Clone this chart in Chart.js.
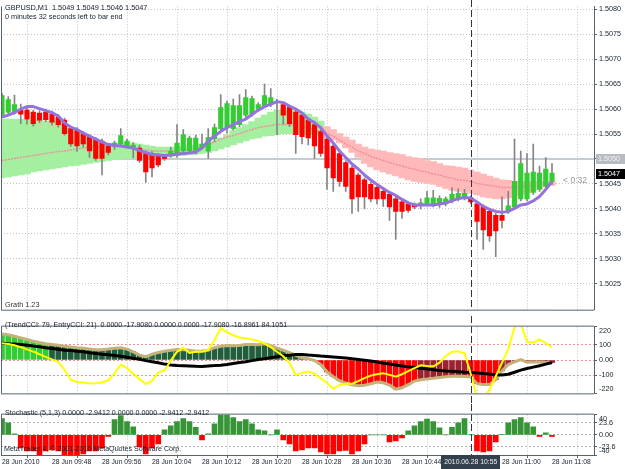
<!DOCTYPE html>
<html>
<head>
<meta charset="utf-8">
<title>GBPUSD,M1</title>
<script src="https://cdn.jsdelivr.net/npm/chart.js@4.4.1/dist/chart.umd.min.js"></script>
<style>
  html, body { margin: 0; padding: 0; background: #fff; }
  #wrap { position: relative; width: 625px; height: 469px; overflow: hidden; }
  #wrap canvas { position: absolute; left: 0; }
</style>
</head>
<body>
<div id="wrap">
  <canvas id="mainChart" width="625" height="316" style="top:0"></canvas>
  <canvas id="cciChart" width="625" height="88" style="top:316px"></canvas>
  <canvas id="stochChart" width="625" height="65" style="top:404px"></canvas>
</div>
<script>
// GBPUSD M1, 28 Jun 2010, one entry per bar from 09:40 to 11:08
const open = [
  1.50588, 1.50594, 1.50594, 1.50598, 1.50598, 1.50594, 1.50592, 1.50594, 1.50590, 1.50584,
  1.50578, 1.50561, 1.50559, 1.50551, 1.50545, 1.50540, 1.50536, 1.50526, 1.50528, 1.50530,
  1.50526, 1.50524, 1.50522, 1.50511, 1.50511, 1.50507, 1.50505, 1.50507, 1.50507, 1.50516,
  1.50516, 1.50514, 1.50523, 1.50516, 1.50540, 1.50561, 1.50565, 1.50561, 1.50569, 1.50588,
  1.50590, 1.50600, 1.50607, 1.50609, 1.50615, 1.50609, 1.50604, 1.50594, 1.50588, 1.50578,
  1.50569, 1.50555, 1.50540, 1.50526, 1.50511, 1.50493, 1.50482, 1.50468, 1.50458, 1.50449,
  1.50443, 1.50435, 1.50429, 1.50420, 1.50414, 1.50410, 1.50408, 1.50410, 1.50410, 1.50410,
  1.50409, 1.50410, 1.50416, 1.50420, 1.50422, 1.50422, 1.50410, 1.50404, 1.50395, 1.50387,
  1.50387, 1.50395, 1.50404, 1.50420, 1.50420, 1.50433, 1.50439, 1.50445, 1.50455
];
const high = [
  1.50632, 1.50625, 1.50628, 1.50610, 1.50603, 1.50598, 1.50597, 1.50600, 1.50596, 1.50589,
  1.50582, 1.50565, 1.50563, 1.50555, 1.50549, 1.50543, 1.50540, 1.50531, 1.50536, 1.50561,
  1.50540, 1.50533, 1.50528, 1.50516, 1.50515, 1.50511, 1.50509, 1.50524, 1.50569, 1.50559,
  1.50546, 1.50548, 1.50550, 1.50561, 1.50570, 1.50629, 1.50616, 1.50620, 1.50629, 1.50639,
  1.50626, 1.50613, 1.50650, 1.50641, 1.50620, 1.50613, 1.50607, 1.50598, 1.50592, 1.50582,
  1.50573, 1.50559, 1.50544, 1.50530, 1.50515, 1.50497, 1.50486, 1.50472, 1.50462, 1.50453,
  1.50447, 1.50439, 1.50433, 1.50424, 1.50418, 1.50414, 1.50412, 1.50420, 1.50435, 1.50437,
  1.50426, 1.50424, 1.50442, 1.50440, 1.50439, 1.50426, 1.50414, 1.50408, 1.50399, 1.50391,
  1.50424, 1.50435, 1.50540, 1.50516, 1.50511, 1.50530, 1.50486, 1.50503, 1.50491
];
const low = [
  1.50584, 1.50590, 1.50590, 1.50571, 1.50570, 1.50566, 1.50573, 1.50575, 1.50568, 1.50564,
  1.50548, 1.50525, 1.50515, 1.50524, 1.50503, 1.50497, 1.50468, 1.50508, 1.50519, 1.50528,
  1.50522, 1.50502, 1.50493, 1.50453, 1.50464, 1.50484, 1.50497, 1.50503, 1.50503, 1.50512,
  1.50512, 1.50510, 1.50520, 1.50501, 1.50535, 1.50555, 1.50552, 1.50558, 1.50565, 1.50584,
  1.50586, 1.50596, 1.50603, 1.50605, 1.50549, 1.50570, 1.50565, 1.50511, 1.50530, 1.50528,
  1.50501, 1.50505, 1.50439, 1.50435, 1.50445, 1.50435, 1.50391, 1.50395, 1.50400, 1.50414,
  1.50410, 1.50405, 1.50377, 1.50339, 1.50381, 1.50393, 1.50400, 1.50400, 1.50406, 1.50404,
  1.50403, 1.50406, 1.50412, 1.50416, 1.50418, 1.50410, 1.50339, 1.50319, 1.50335, 1.50304,
  1.50362, 1.50391, 1.50400, 1.50416, 1.50416, 1.50429, 1.50435, 1.50441, 1.50449
];
const close = [
  1.50627, 1.50619, 1.50609, 1.50590, 1.50580, 1.50571, 1.50578, 1.50579, 1.50574, 1.50569,
  1.50551, 1.50530, 1.50526, 1.50530, 1.50516, 1.50501, 1.50501, 1.50513, 1.50532, 1.50547,
  1.50536, 1.50528, 1.50497, 1.50474, 1.50482, 1.50488, 1.50501, 1.50516, 1.50532, 1.50549,
  1.50542, 1.50542, 1.50530, 1.50543, 1.50563, 1.50603, 1.50611, 1.50607, 1.50607, 1.50623,
  1.50621, 1.50609, 1.50627, 1.50623, 1.50613, 1.50588, 1.50571, 1.50549, 1.50545, 1.50542,
  1.50526, 1.50511, 1.50482, 1.50462, 1.50455, 1.50445, 1.50420, 1.50424, 1.50424, 1.50420,
  1.50420, 1.50420, 1.50404, 1.50395, 1.50395, 1.50397, 1.50404, 1.50411, 1.50422, 1.50422,
  1.50421, 1.50420, 1.50429, 1.50431, 1.50431, 1.50414, 1.50375, 1.50358, 1.50346, 1.50356,
  1.50377, 1.50406, 1.50455, 1.50491, 1.50472, 1.50474, 1.50472, 1.50480, 1.50472
];
// fast moving average (purple)
const maLine = [
  1.50584, 1.50588, 1.50593, 1.50600, 1.50605, 1.50605, 1.50601, 1.50597, 1.50593, 1.50586,
  1.50572, 1.50564, 1.50559, 1.50552, 1.50546, 1.50540, 1.50534, 1.50529, 1.50527, 1.50526,
  1.50524, 1.50522, 1.50517, 1.50513, 1.50509, 1.50508, 1.50507, 1.50508, 1.50510, 1.50511,
  1.50512, 1.50514, 1.50522, 1.50536, 1.50546, 1.50555, 1.50563, 1.50569, 1.50575, 1.50580,
  1.50589, 1.50598, 1.50605, 1.50610, 1.50615, 1.50613, 1.50606, 1.50600, 1.50592, 1.50580,
  1.50573, 1.50563, 1.50546, 1.50532, 1.50516, 1.50503, 1.50490, 1.50480, 1.50468, 1.50458,
  1.50449, 1.50441, 1.50433, 1.50427, 1.50419, 1.50412, 1.50408, 1.50408, 1.50408, 1.50408,
  1.50410, 1.50412, 1.50416, 1.50421, 1.50423, 1.50422, 1.50414, 1.50405, 1.50399, 1.50395,
  1.50393, 1.50395, 1.50401, 1.50408, 1.50410, 1.50416, 1.50425, 1.50439, 1.50455
];
// ribbon between the two slow averages
const bandTop = [
  1.50580, 1.50580, 1.50580, 1.50580, 1.50578, 1.50578, 1.50578, 1.50576, 1.50576, 1.50575,
  1.50567, 1.50561, 1.50555, 1.50549, 1.50544, 1.50538, 1.50534, 1.50532, 1.50532, 1.50532,
  1.50532, 1.50532, 1.50530, 1.50528, 1.50526, 1.50524, 1.50524, 1.50524, 1.50524, 1.50526,
  1.50526, 1.50528, 1.50530, 1.50532, 1.50536, 1.50542, 1.50549, 1.50557, 1.50563, 1.50569,
  1.50575, 1.50582, 1.50588, 1.50594, 1.50598, 1.50600, 1.50600, 1.50598, 1.50594, 1.50590,
  1.50584, 1.50576, 1.50565, 1.50559, 1.50551, 1.50544, 1.50538, 1.50530, 1.50524, 1.50520,
  1.50518, 1.50516, 1.50513, 1.50511, 1.50509, 1.50505, 1.50503, 1.50501, 1.50497, 1.50495,
  1.50491, 1.50487, 1.50486, 1.50484, 1.50482, 1.50478, 1.50474, 1.50470, 1.50466, 1.50462,
  1.50458, 1.50457, 1.50455, 1.50455, 1.50455, 1.50455, 1.50455, 1.50455, 1.50455
];
const bandBottom = [
  1.50462, 1.50464, 1.50466, 1.50468, 1.50470, 1.50474, 1.50476, 1.50478, 1.50480, 1.50482,
  1.50484, 1.50486, 1.50487, 1.50489, 1.50491, 1.50493, 1.50495, 1.50497, 1.50499, 1.50499,
  1.50501, 1.50501, 1.50503, 1.50503, 1.50503, 1.50505, 1.50505, 1.50505, 1.50507, 1.50507,
  1.50509, 1.50509, 1.50511, 1.50513, 1.50516, 1.50520, 1.50524, 1.50528, 1.50532, 1.50536,
  1.50540, 1.50542, 1.50546, 1.50547, 1.50549, 1.50551, 1.50551, 1.50551, 1.50551, 1.50551,
  1.50549, 1.50547, 1.50542, 1.50538, 1.50532, 1.50522, 1.50513, 1.50503, 1.50491, 1.50484,
  1.50478, 1.50474, 1.50470, 1.50466, 1.50462, 1.50458, 1.50455, 1.50453, 1.50451, 1.50449,
  1.50445, 1.50441, 1.50437, 1.50435, 1.50433, 1.50431, 1.50428, 1.50424, 1.50422, 1.50420,
  1.50420, 1.50422, 1.50426, 1.50429, 1.50433, 1.50437, 1.50441, 1.50445, 1.50447
];
const bandMid = [
  1.50497, 1.50499, 1.50501, 1.50503, 1.50505, 1.50507, 1.50509, 1.50511, 1.50513, 1.50515,
  1.50516, 1.50518, 1.50520, 1.50522, 1.50524, 1.50524, 1.50526, 1.50526, 1.50526, 1.50526,
  1.50524, 1.50522, 1.50520, 1.50518, 1.50516, 1.50516, 1.50516, 1.50516, 1.50516, 1.50518,
  1.50518, 1.50520, 1.50524, 1.50528, 1.50534, 1.50540, 1.50544, 1.50547, 1.50551, 1.50555,
  1.50559, 1.50563, 1.50565, 1.50567, 1.50569, 1.50569, 1.50569, 1.50567, 1.50565, 1.50563,
  1.50559, 1.50555, 1.50551, 1.50546, 1.50538, 1.50530, 1.50524, 1.50516, 1.50511, 1.50505,
  1.50501, 1.50497, 1.50493, 1.50489, 1.50486, 1.50482, 1.50480, 1.50476, 1.50474, 1.50470,
  1.50468, 1.50464, 1.50462, 1.50458, 1.50457, 1.50455, 1.50451, 1.50449, 1.50447, 1.50445,
  1.50443, 1.50443, 1.50443, 1.50445, 1.50445, 1.50447, 1.50449, 1.50451, 1.50453
];
// 1 = rising ribbon (green), -1 = falling ribbon (pink)
const bandTrend = [
  1, 1, 1, 1, 1, 1, 1, 1, 1, 1,  1, 1, 1, 1, 1, 1, 1, 1, 1, 1,
  1, 1, 1, 1, 1, 1, 1, 1, 1, 1,  1, 1, 1, 1, 1, 1, 1, 1, 1, 1,
  1, 1, 1, 1, 1, 1, 1, 1, 1, 1,  1, 1, -1, -1, -1, -1, -1, -1, -1, -1,
  -1, -1, -1, -1, -1, -1, -1, -1, -1, -1,  -1, -1, -1, -1, -1, -1, -1, -1, -1, -1,
  -1, -1, -1, -1, -1, -1, -1, -1, -1
];

// TrendCCI panel
const cciTrend = [
  172, 167, 157, 146, 135, 124, 115, 107, 102, 97,
  90, 86, 81, 78, 72, 68, 68, 72, 78, 80,
  72, 54, 32, 22, 38, 49, 58, 64, 69, 68,
  64, 58, 59, 64, 81, 90, 95, 94, 96, 102,
  102, 101, 107, 94, 78, 64, 49, 31, 15, 9,
  -3, -30, -78, -110, -137, -152, -163, -169, -166, -157,
  -145, -150, -166, -192, -183, -163, -139, -130, -126, -121,
  -115, -110, -107, -107, -108, -112, -156, -161, -162, -130,
  -72, -30, -13, 3, -15, -13, -14, -16, -18
];
// 2 strong up, 1 up, -1 down, -2 strong down
const cciState = [
  2, 2, 2, 2, 2, 2, 2, 2, 1, 1,  1, 1, 1, 1, 1, 1, 1, 1, 1, 1,
  1, 1, 1, 1, 1, 1, 1, 1, 1, 1,  1, 1, 1, 1, 1, 1, 1, 1, 1, 1,
  1, 1, 1, 1, 1, 1, 1, 1, 1, 1,  -1, -2, -2, -2, -2, -2, -2, -2, -2, -2,
  -2, -2, -2, -2, -2, -2, -2, -1, -1, -1,  -1, -1, -1, -1, -1, -2, -2, -2, -2, -2,
  -1, -1, -1, -1, -1, -1, -1, -1, -1
];
const cciSignal = [
  111, 108, 106, 103, 98, 92, 87, 81, 76, 71,
  65, 62, 57, 54, 48, 43, 38, 34, 30, 25,
  18, 11, 4, -4, -11, -18, -27, -33, -36, -38,
  -40, -42, -43, -39, -37, -34, -29, -23, -17, -11,
  -4, 3, 8, 15, 22, 29, 32, 36, 37, 33,
  30, 26, 23, 20, 17, 13, 9, 4, -1, -7,
  -13, -21, -27, -33, -39, -45, -50, -55, -60, -64,
  -69, -72, -74, -77, -80, -82, -85, -89, -92, -97,
  -99, -94, -81, -67, -56, -47, -38, -27, -17
];
const cciEntry = [
  110, 106, 97, 85, 70, 55, 38, 21, 4, -13,
  -63, -130, -145, -149, -155, -154, -148, -134, -88, -30,
  -54, -90, -126, -158, -138, -83, -69, -4, 54, 81,
  46, 54, 55, 67, 130, 210, 183, 163, 148, 143,
  136, 125, 109, 85, 54, 25, -18, -100, -85, -76,
  -90, -121, -152, -188, -166, -156, -156, -139, -119, -103,
  -94, -87, -98, -110, -94, -73, -54, -35, -39, -42,
  -18, 27, 54, 58, 45, -90, -250, -250, -197, -107,
  -18, 72, 215, 240, 121, 114, 136, 112, 84
];

// Stochastic (5,1,3) histogram
const stoch = [
  32, 24, 2, -26, -32, -32, -40, -32, -30, -32,
  -40, -40, -40, -38, -32, -32, -26, -3, 30, 38,
  26, 16, -24, -38, -26, -18, 10, 18, 26, 32,
  26, 15, -10, 2, 22, 40, 40, 34, 26, 30,
  22, 10, 8, 0, 10, -10, -18, -32, -30, -26,
  -26, -34, -38, -38, -32, -31, -38, -32, -18, 0,
  0, 0, -14, -12, -6, 8, 18, 26, 31, 26,
  14, 0, 15, 24, 32, 0, -32, -34, -32, -14,
  1, 24, 30, 34, 24, 16, -3, 4, -2.94
];

const priceTicks = [1.5025, 1.5030, 1.5035, 1.5040, 1.5045, 1.5050, 1.5055, 1.5060, 1.5065, 1.5070, 1.5075, 1.5080];
const cciTicks = [-220, -100, 0, 100, 220];
const cciTickText = ['-220', '-100', '0.00', '100', '220'];
const cciLevels = [-100, 0, 100];
const stochTicks = [-40, -23.6, 0, 23.6, 40];
const stochTickText = ['-40', '-23.6', '0.00', '23.6', '40'];
const stochLevels = [-23.6, 0, 23.6];
const timeTicks = [0, 8, 16, 24, 32, 40, 48, 56, 64, 72, 80, 88];
const timeLabels = ['28 Jun 2010', '28 Jun 09:48', '28 Jun 09:56', '28 Jun 10:04', '28 Jun 10:12', '28 Jun 10:20',
  '28 Jun 10:28', '28 Jun 10:36', '28 Jun 10:44', '28 Jun 10:52', '28 Jun 11:00', '28 Jun 11:08'];
const levelPrice = 1.5050;
const bidPrice = 1.5047;
const markerBar = 75;
const markerLabel = '2010.06.28 10:55';

const FONT = "'Liberation Sans', Arial, sans-serif";
const X_MIN = -0.16, X_MAX = 94.72;
const GRID = '#c4c4c4';
const FRAME = '#56636f';
const TEXT = '#16202c';

Chart.defaults.font.family = FONT;

const xy = arr => arr.map((v, i) => ({ x: i, y: v }));

function xScale(withLabels) {
  return {
    type: 'linear', min: X_MIN, max: X_MAX, bounds: 'data', offset: false,
    afterBuildTicks: s => { s.ticks = timeTicks.map(v => ({ value: v })); },
    afterFit: s => { s.height = withLabels ? 14 : 0; },
    grid: { color: GRID, drawTicks: withLabels, tickLength: 3, tickColor: FRAME },
    border: { display: false, dash: [1, 2] },
    ticks: {
      display: withLabels, autoSkip: false, maxRotation: 0, minRotation: 0, align: 'start', padding: 0,
      color: TEXT, font: { family: FONT, size: 6.8 },
      callback: (v, i) => timeLabels[i]
    }
  };
}

function yScale(min, max, ticks, label, gridColor, dash) {
  return {
    position: 'right', min, max, bounds: 'data',
    afterBuildTicks: s => { s.ticks = ticks.map(v => ({ value: v })); },
    afterFit: s => { s.width = 31; },
    grid: { color: gridColor, tickLength: 3, tickColor: FRAME },
    border: { display: true, color: FRAME, dash },
    ticks: { autoSkip: false, padding: 2, color: TEXT, font: { family: FONT, size: 7.2 }, callback: label }
  };
}

// panel-edge labels sit inside the panel, like the terminal draws them
const edgeLabel = texts => (v, i) => {
  if (i === 0) return [texts[i], ''];
  if (i === texts.length - 1) return ['', texts[i]];
  return texts[i];
};

function baseOptions(padding, scales) {
  return {
    responsive: false, animation: false, devicePixelRatio: 1,
    layout: { padding },
    events: [],
    plugins: { legend: { display: false }, tooltip: { enabled: false } },
    scales
  };
}

function text(ctx, str, x, y, color, size) {
  ctx.save();
  ctx.font = size + 'px ' + FONT;
  ctx.fillStyle = color;
  ctx.textAlign = 'left';
  ctx.textBaseline = 'middle';
  ctx.fillText(str, x, y);
  ctx.restore();
}

function marker(chart, top, bottom) {
  const { ctx, scales: { x } } = chart;
  const px = Math.round(x.getPixelForValue(markerBar)) + 0.5;
  ctx.save();
  ctx.strokeStyle = '#2b3947';
  ctx.lineWidth = 1;
  ctx.setLineDash([7, 3]);
  ctx.beginPath();
  ctx.moveTo(px, top);
  ctx.lineTo(px, bottom);
  ctx.stroke();
  ctx.restore();
}

function frame(chart, sides) {
  const { ctx, chartArea: a } = chart;
  ctx.save();
  ctx.strokeStyle = FRAME;
  ctx.lineWidth = 1;
  ctx.beginPath();
  if (sides.includes('top')) { ctx.moveTo(a.left, a.top - 0.5); ctx.lineTo(a.right, a.top - 0.5); }
  if (sides.includes('bottom')) { ctx.moveTo(a.left, a.bottom + 0.5); ctx.lineTo(a.right, a.bottom + 0.5); }
  ctx.moveTo(a.left + 0.5, a.top); ctx.lineTo(a.left + 0.5, a.bottom);
  ctx.stroke();
  ctx.restore();
}

function priceBox(ctx, y, str, bg, fg) {
  ctx.save();
  ctx.fillStyle = bg;
  ctx.fillRect(596, Math.round(y) - 5, 29, 10);
  ctx.restore();
  text(ctx, str, 598, Math.round(y) + 0.5, fg, 7.2);
}

const mainDecor = {
  id: 'mainDecor',
  beforeDatasetsDraw(chart) {
    const { ctx, chartArea: a, scales: { y } } = chart;
    const py = Math.round(y.getPixelForValue(levelPrice));
    ctx.save();
    ctx.strokeStyle = '#c6cad1';
    ctx.lineWidth = 2;
    ctx.beginPath();
    ctx.moveTo(a.left, py);
    ctx.lineTo(a.right, py);
    ctx.stroke();
    ctx.restore();
  },
  afterDraw(chart) {
    const { ctx, chartArea: a, scales: { y } } = chart;
    marker(chart, 0, a.bottom);
    frame(chart, ['bottom']);
    text(ctx, 'GBPUSD,M1  1.5049 1.5049 1.5046 1.5047', 5, 7.5, TEXT, 7.3);
    text(ctx, '0 minutes 32 seconds left to bar end', 5, 16.5, TEXT, 7.3);
    text(ctx, 'Grath 1.23', 5, 305, '#333', 7.3);
    priceBox(ctx, y.getPixelForValue(levelPrice), '1.5050', '#b7bbc2', '#f4f4f4');
    priceBox(ctx, y.getPixelForValue(bidPrice), '1.5047', '#000', '#fff');
    text(ctx, '< 0:32', 563, y.getPixelForValue(bidPrice) + 6.5, '#9a9a9a', 8.6);
  }
};

const cciDecor = {
  id: 'cciDecor',
  afterDraw(chart) {
    const { ctx, chartArea: a } = chart;
    marker(chart, 0, chart.height);
    frame(chart, ['top', 'bottom']);
    text(ctx, '(TrendCCI: 79, EntryCCI: 21)  0.0000 -17.9080 0.0000 0.0000 -17.9080 -16.8961 84.1051', 5, 9, TEXT, 7.1);
  }
};

const stochDecor = {
  id: 'stochDecor',
  afterDraw(chart) {
    const { ctx, chartArea: a, scales: { x } } = chart;
    marker(chart, 0, a.bottom);
    frame(chart, ['top', 'bottom']);
    text(ctx, 'Stochastic (5,1,3) 0.0000 -2.9412 0.0000 0.0000 -2.9412 -2.9412', 5, 9, TEXT, 7.1);
    text(ctx, 'MetaTrader 4, \u00a9 2001-2010 MetaQuotes Software Corp.', 4, 45, TEXT, 7.1);
    const cx = x.getPixelForValue(markerBar);
    ctx.save();
    ctx.fillStyle = '#33414e';
    ctx.fillRect(Math.round(cx - 29.5), a.bottom, 59, chart.height - a.bottom);
    ctx.restore();
    ctx.save();
    ctx.font = '6.8px ' + FONT;
    ctx.fillStyle = '#f0f0f0';
    ctx.textAlign = 'center';
    ctx.textBaseline = 'middle';
    ctx.fillText(markerLabel, cx, a.bottom + 7.5);
    ctx.restore();
  }
};

// ---- price panel ----
new Chart(document.getElementById('mainChart'), {
  type: 'bar',
  data: {
    datasets: [
      {
        label: 'Ribbon',
        data: bandTop.map((t, i) => ({ x: i, y: [bandBottom[i], t] })),
        backgroundColor: bandTrend.map(t => t > 0 ? '#a4f0a0' : '#ffb9b9'),
        barThickness: 6.7, grouped: false, order: 5
      },
      {
        type: 'line', label: 'Ribbon mid',
        data: xy(bandMid),
        borderColor: '#ef8f9c', borderWidth: 1.4, borderDash: [2, 1],
        pointRadius: 0, order: 4
      },
      {
        label: 'Wicks',
        data: high.map((h, i) => ({ x: i, y: [low[i], h] })),
        backgroundColor: '#858585',
        barThickness: 1, grouped: false, order: 3
      },
      {
        label: 'Bodies',
        data: open.map((o, i) => ({ x: i, y: [o, close[i]] })),
        backgroundColor: open.map((o, i) => close[i] >= o ? '#33cc33' : '#ff0000'),
        barThickness: 4.5, minBarLength: 1, grouped: false, order: 2
      },
      {
        type: 'line', label: 'MA',
        data: xy(maLine),
        borderColor: '#9373dc', borderWidth: 3, borderJoinStyle: 'round',
        pointRadius: 0, order: 1
      }
    ]
  },
  options: baseOptions({ left: 1, top: 0, right: 0, bottom: 1 }, {
    x: xScale(false),
    y: yScale(1.50198, 1.50806, priceTicks, v => v.toFixed(4), GRID, [1, 2])
  }),
  plugins: [mainDecor]
});

// ---- TrendCCI panel ----
const cciColors = { 2: '#33cc33', 1: '#215f3c', '-1': '#9c2230', '-2': '#ff0000' };
new Chart(document.getElementById('cciChart'), {
  type: 'bar',
  data: {
    datasets: [
      {
        label: 'TrendCCI hist',
        data: xy(cciTrend),
        backgroundColor: cciState.map(s => cciColors[s]),
        barThickness: 5, grouped: false, order: 4
      },
      {
        type: 'line', label: 'TrendCCI',
        data: xy(cciTrend),
        borderColor: '#c3b27a', borderWidth: 3, pointRadius: 0, order: 3
      },
      {
        type: 'line', label: 'Signal',
        data: xy(cciSignal),
        borderColor: '#000', borderWidth: 3, pointRadius: 0, order: 2
      },
      {
        type: 'line', label: 'EntryCCI',
        data: xy(cciEntry),
        borderColor: '#ffff00', borderWidth: 2, pointRadius: 0, clip: 0, order: 1
      }
    ]
  },
  options: baseOptions({ left: 1, top: 1, right: 0, bottom: 1 }, {
    x: xScale(false),
    y: yScale(-220, 220, cciTicks, edgeLabel(cciTickText),
      c => c.tick && cciLevels.includes(c.tick.value) ? '#ff8f8f' : 'rgba(0,0,0,0)', [2, 2])
  }),
  plugins: [cciDecor]
});

// ---- Stochastic panel ----
new Chart(document.getElementById('stochChart'), {
  type: 'bar',
  data: {
    datasets: [
      {
        label: 'Stochastic',
        data: xy(stoch),
        backgroundColor: stoch.map(v => v >= 0 ? '#379537' : '#ff0000'),
        barThickness: 5, grouped: false
      }
    ]
  },
  options: baseOptions({ left: 1, top: 2, right: 0, bottom: 0 }, {
    x: xScale(true),
    y: yScale(-40, 40, stochTicks, edgeLabel(stochTickText),
      c => c.tick && stochLevels.includes(c.tick.value) ? '#b4b4b4' : 'rgba(0,0,0,0)', [2, 2])
  }),
  plugins: [stochDecor]
});
</script>
</body>
</html>
